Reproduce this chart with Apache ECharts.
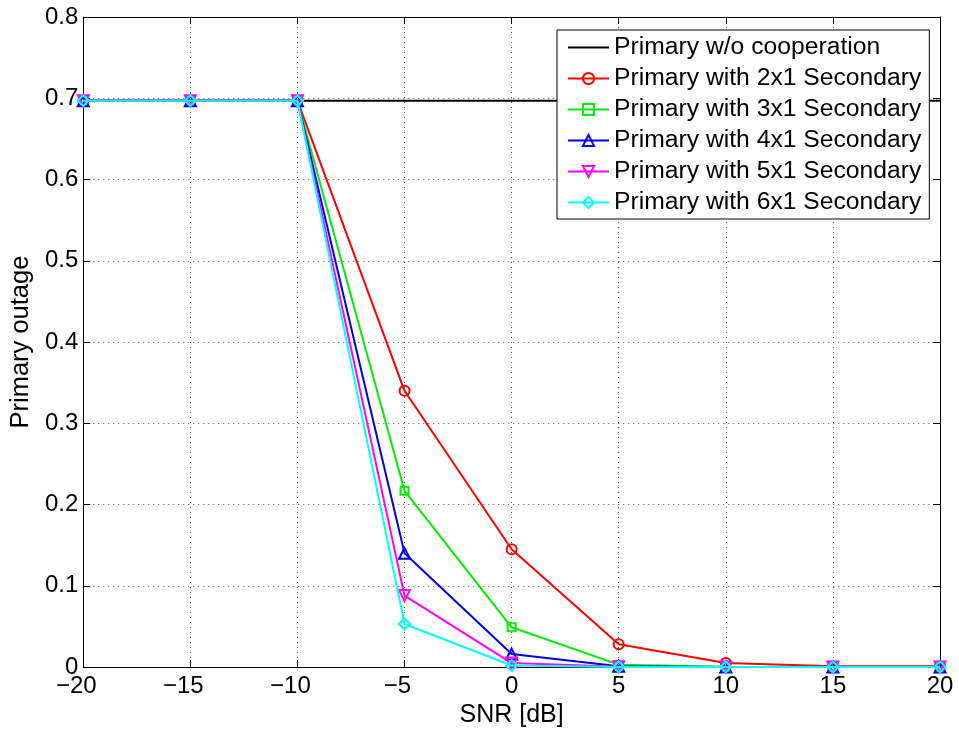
<!DOCTYPE html>
<html><head><meta charset="utf-8">
<script src="https://cdn.jsdelivr.net/npm/echarts@6/dist/echarts.min.js"></script>
<style>html,body{margin:0;padding:0;background:#fff}#c{width:959px;height:733px}</style>
</head><body><div id="c"></div>
<script>
const snr = [-20, -15, -10, -5, 0, 5, 10, 15, 20];
const noCoop = [0.697, 0.697, 0.697, 0.697, 0.697, 0.697, 0.697, 0.697, 0.697];
const sec2x1 = [0.697, 0.697, 0.697, 0.340, 0.145, 0.028, 0.005, 0.001, 0.001];
const sec3x1 = [0.697, 0.697, 0.697, 0.217, 0.049, 0.003, 0.0005, 0.0002, 0.0001];
const sec4x1 = [0.697, 0.697, 0.697, 0.140, 0.016, 0.001, 0.0002, 0.0001, 0.0001];
const sec5x1 = [0.697, 0.697, 0.697, 0.088, 0.005, 0.0005, 0.0001, 0.0001, 0.0001];
const sec6x1 = [0.697, 0.697, 0.697, 0.053, 0.002, 0.0002, 0.0001, 0.0001, 0.0001];
const names = ['Primary w/o cooperation','Primary with 2x1 Secondary','Primary with 3x1 Secondary','Primary with 4x1 Secondary','Primary with 5x1 Secondary','Primary with 6x1 Secondary'];
const colors = ['#000000','#ff0000','#00ee00','#0000ee','#ff00ff','#00ffff'];
const xTicks = [-20,-15,-10,-5,0,5,10,15,20];
const yTicks = [0,0.1,0.2,0.3,0.4,0.5,0.6,0.7,0.8];

const font = 'Liberation Sans, Arial, Helvetica, sans-serif';
function pts(arr){ return snr.map((x,i)=>[x,arr[i]]); }
const seriesData = [noCoop, sec2x1, sec3x1, sec4x1, sec5x1, sec6x1];
const symbols = ['circle','circle','rect','triangle','triangle','diamond'];
const rot = [0,0,0,0,180,0];
const sizes = [1,10,8,11,11,11];

const series = seriesData.map((d,i)=>({
  name: names[i], type:'line', data: pts(d),
  xAxisIndex:0, yAxisIndex:0,
  symbol: symbols[i], symbolSize: sizes[i], symbolRotate: rot[i],
  showSymbol: i>0,
  lineStyle:{color:colors[i], width:2},
  itemStyle:{color:'rgba(255,255,255,0)', borderColor: i===0 ? 'rgba(0,0,0,0)' : colors[i], borderWidth: i===0 ? 0 : 2},
  emphasis:{disabled:true}, animation:false, z: i===0?2:3+i
}));

const chart = echarts.init(document.getElementById('c'));
chart.setOption({
  backgroundColor:'#fff',
  animation:false,
  grid:{left:82, top:17, right:19, bottom:65, containLabel:false},
  xAxis:[{
    type:'value', min:-20, max:20, interval:5, position:'bottom',
    axisLine:{onZero:false, lineStyle:{color:'#000', width:1}},
    axisTick:{inside:true, length:7, lineStyle:{color:'#000'}},
    axisLabel:{color:'#000', fontSize:24, fontFamily:font, margin:7,
      formatter:v=>{ if(!xTicks.includes(v)) return ''; return v<0 ? '\u2212'+(-v)+'{pad| }' : String(v); },
      rich:{pad:{width:14, fontSize:24, fontFamily:font}}},
    splitLine:{show:true, lineStyle:{color:'#555', type:[1,4], width:1}},
    name:'SNR [dB]', nameLocation:'middle', nameGap:32,
    nameTextStyle:{color:'#000', fontSize:25, fontFamily:font}
  },{
    type:'value', min:-20, max:20, interval:5, position:'top',
    axisLine:{onZero:false, lineStyle:{color:'#000'}},
    axisTick:{inside:true, length:7, lineStyle:{color:'#000'}},
    axisLabel:{show:false}, splitLine:{show:false}
  }],
  yAxis:[{
    type:'value', min:0, max:0.8, interval:0.1, position:'left',
    axisLine:{onZero:false, lineStyle:{color:'#000'}},
    axisTick:{inside:true, length:7, lineStyle:{color:'#000'}},
    axisLabel:{color:'#000', fontSize:24, fontFamily:font, margin:5,
      formatter:v=>{const r=Math.round(v*10)/10; return r===0?'0':r.toFixed(1);}},
    splitLine:{show:true, lineStyle:{color:'#555', type:[1,4], width:1}},
    name:'Primary outage', nameLocation:'middle', nameGap:48, nameRotate:90,
    nameTextStyle:{color:'#000', fontSize:25.5, fontFamily:font}
  },{
    type:'value', min:0, max:0.8, interval:0.1, position:'right',
    axisLine:{onZero:false, lineStyle:{color:'#000'}},
    axisTick:{inside:true, length:7, lineStyle:{color:'#000'}},
    axisLabel:{show:false}, splitLine:{show:false}
  }],
  legend:{
    orient:'vertical', left:557, top:30,
    data: names,
    backgroundColor:'#fff', borderColor:'#000', borderWidth:1, borderRadius:0,
    padding:[5,8,4,10], itemGap:6, itemWidth:41, itemHeight:14,
    textStyle:{color:'#000', fontSize:24.7, fontFamily:font, lineHeight:24},
    selectedMode:false
  },
  series: series
});
</script></body></html>
